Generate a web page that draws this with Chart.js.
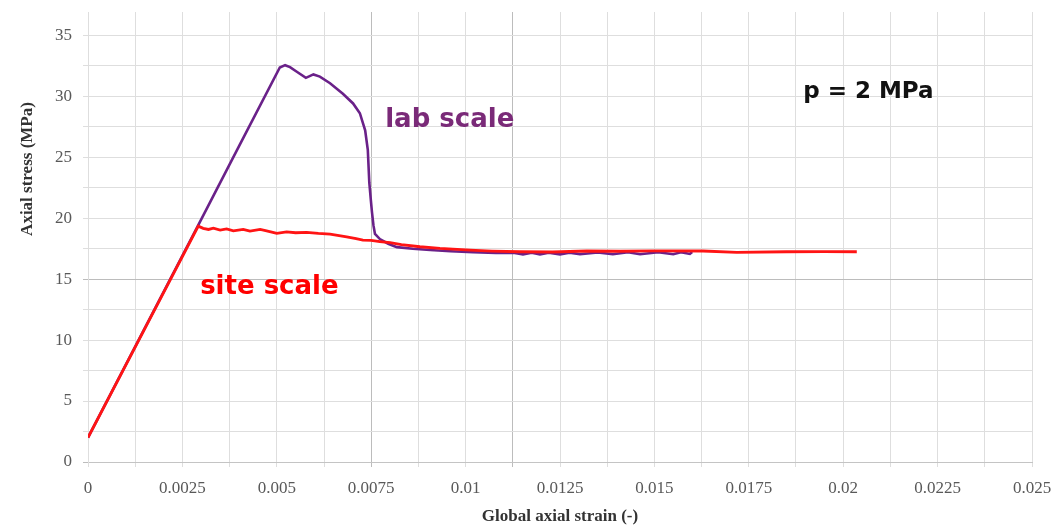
<!DOCTYPE html>
<html>
<head>
<meta charset="utf-8">
<title>Axial stress vs global axial strain</title>
<script src="https://cdn.jsdelivr.net/npm/chart.js@4/dist/chart.umd.min.js"></script>
<style>
  html, body { margin: 0; padding: 0; background: #fff; }
  #wrap { width: 1058px; height: 527px; }
</style>
</head>
<body>
<div id="wrap"><canvas id="stressChart"></canvas></div>
<script>
// site scale test
const siteStrain = [0, 0.00292, 0.00305, 0.00319, 0.00332, 0.0035, 0.00367, 0.00385, 0.00411, 0.00429,
  0.00456, 0.00473, 0.005, 0.00526, 0.0055, 0.00579, 0.0061, 0.00641, 0.00685, 0.0071, 0.00728, 0.0075,
  0.00773, 0.008, 0.0083, 0.00879, 0.00932, 0.01012, 0.0107, 0.01144, 0.0123, 0.01321, 0.0141, 0.01497,
  0.01629, 0.01718, 0.0185, 0.0195, 0.02036];
const siteStress = [2, 19.34, 19.16, 19.07, 19.18, 19.02, 19.12, 18.96, 19.08, 18.93,
  19.07, 18.96, 18.75, 18.87, 18.8, 18.83, 18.74, 18.69, 18.47, 18.32, 18.2, 18.18,
  18.08, 17.98, 17.82, 17.65, 17.52, 17.38, 17.3, 17.24, 17.22, 17.3, 17.28, 17.32,
  17.3, 17.19, 17.24, 17.25, 17.24];

// lab scale test
const labStrain = [0, 0.0029, 0.004, 0.00508, 0.00522, 0.00535, 0.00553, 0.00577, 0.00597, 0.00614,
  0.00641, 0.00675, 0.00702, 0.0072, 0.00734, 0.00741, 0.00745, 0.00749, 0.00752, 0.00756, 0.0076,
  0.00773, 0.00795, 0.00818, 0.0086, 0.00906, 0.0096, 0.0102, 0.0108, 0.0113, 0.01152, 0.01175,
  0.01197, 0.0122, 0.0125, 0.01275, 0.01303, 0.0135, 0.0139, 0.0143, 0.01462, 0.0151, 0.0155,
  0.0157, 0.01594, 0.016];
const labStress = [2, 19.3, 25.9, 32.35, 32.54, 32.38, 32.0, 31.5, 31.78, 31.6,
  31.06, 30.2, 29.4, 28.6, 27.2, 25.6, 22.9, 21.5, 20.5, 19.4, 18.7,
  18.28, 17.9, 17.62, 17.48, 17.38, 17.28, 17.2, 17.15, 17.14, 17.03, 17.16,
  17.03, 17.16, 17.03, 17.17, 17.04, 17.18, 17.04, 17.2, 17.04, 17.2, 17.04,
  17.2, 17.06, 17.22];

const strainLabels = ['0', '0.0025', '0.005', '0.0075', '0.01', '0.0125', '0.015', '0.0175', '0.02', '0.0225', '0.025'];
const stressLabels = ['0', '5', '10', '15', '20', '25', '30', '35'];

const toPoints = (xs, ys) => xs.map((x, i) => ({x: x, y: ys[i]}));

// text written on the plot, anchored in data units
const notes = [
  {text: 'lab scale', x: 0.00787, y: 27.5, color: '#7a2a78', font: 'bold 26px "DejaVu Sans"'},
  {text: 'site scale', x: 0.00297, y: 13.8, color: '#ff0000', font: 'bold 26px "DejaVu Sans"'},
  {text: 'p = 2 MPa', x: 0.01894, y: 29.85, color: '#111111', font: 'bold 23px "DejaVu Sans"'}
];

const textPlugin = {
  id: 'plotText',
  afterDraw(chart) {
    const ctx = chart.ctx;
    const xs = chart.scales.x, ys = chart.scales.y;
    ctx.save();
    ctx.textBaseline = 'alphabetic';
    ctx.textAlign = 'left';
    notes.forEach(n => {
      ctx.font = n.font;
      ctx.fillStyle = n.color;
      ctx.fillText(n.text, xs.getPixelForValue(n.x), ys.getPixelForValue(n.y));
    });
    // y axis title sits a little above the middle of the axis
    ctx.translate(28, chart.chartArea.top + 157);
    ctx.rotate(-Math.PI / 2);
    ctx.textAlign = 'center';
    ctx.textBaseline = 'middle';
    ctx.font = 'bold 17px "Liberation Serif"';
    ctx.fillStyle = '#333333';
    ctx.fillText('Axial stress (MPa)', 0, 0);
    ctx.restore();
  }
};

const near = (a, b) => Math.abs(a - b) < 1e-7;

new Chart(document.getElementById('stressChart'), {
  type: 'line',
  data: {
    datasets: [{
      label: 'site scale',
      data: toPoints(siteStrain, siteStress),
      borderColor: '#ff1414',
      borderWidth: 2.8,
      pointRadius: 0,
      tension: 0
    }, {
      label: 'lab scale',
      data: toPoints(labStrain, labStress),
      borderColor: '#6a2189',
      borderWidth: 2.6,
      pointRadius: 0,
      tension: 0
    }]
  },
  options: {
    responsive: true,
    maintainAspectRatio: false,
    animation: false,
    layout: {padding: {top: 12, right: 26, left: 0, bottom: 0}},
    plugins: {
      legend: {display: false},
      tooltip: {enabled: false}
    },
    scales: {
      x: {
        type: 'linear',
        min: 0,
        max: 0.025,
        afterFit: s => {
          s.height = 65;
          s.paddingLeft = 0;
          s.paddingRight = 0;
        },
        afterBuildTicks: s => {
          s.ticks = [];
          for (let i = 0; i <= 20; i++) s.ticks.push({value: i * 0.00125});
        },
        ticks: {
          autoSkip: false,
          maxRotation: 0,
          padding: 11,
          color: '#595959',
          font: {family: 'Liberation Serif', size: 17},
          callback: (v, i) => i % 2 === 0 ? strainLabels[i / 2] : ''
        },
        grid: {
          tickLength: 5,
          lineWidth: 1,
          color: c => (near(c.tick.value, 0.0075) || near(c.tick.value, 0.01125)) ? '#bcbcbc' : '#dedede'
        },
        border: {color: '#c4c4c4'},
        title: {
          display: true,
          text: 'Global axial strain (-)',
          color: '#333333',
          font: {family: 'Liberation Serif', size: 17, weight: 'bold'},
          padding: {top: 0, bottom: 0}
        }
      },
      y: {
        type: 'linear',
        min: 0,
        max: 36.9,
        afterFit: s => {
          s.width = 88;
          s.paddingTop = 0;
          s.paddingBottom = 0;
        },
        afterBuildTicks: s => {
          s.ticks = [];
          for (let i = 0; i <= 14; i++) s.ticks.push({value: i * 2.5});
        },
        ticks: {
          padding: 11,
          color: '#595959',
          font: {family: 'Liberation Serif', size: 17},
          callback: (v, i) => i % 2 === 0 ? stressLabels[i / 2] : ''
        },
        grid: {
          tickLength: 5,
          lineWidth: 1,
          color: c => (c.tick.value === 15 || c.tick.value === 0) ? '#bcbcbc' : '#dedede'
        },
        border: {color: '#dedede'}
      }
    }
  },
  plugins: [textPlugin]
});
</script>
</body>
</html>
